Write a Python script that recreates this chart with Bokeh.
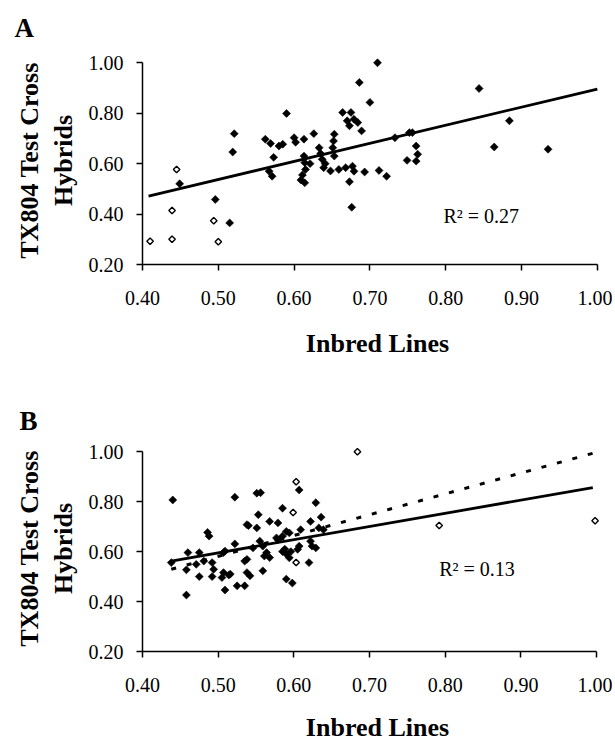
import numpy as np
from bokeh.plotting import figure
from bokeh.layouts import column
from bokeh.models import FixedTicker, Label, Range1d, Title
from bokeh.embed import file_html
from bokeh.resources import INLINE

# ---------------- data: panel A ----------------
a_fill_x = [0.449, 0.496, 0.515, 0.519, 0.521, 0.562, 0.569, 0.580, 0.585, 0.573,
            0.567, 0.571, 0.590, 0.600, 0.602, 0.613, 0.626, 0.613, 0.614, 0.611,
            0.614, 0.609, 0.633, 0.635, 0.637, 0.639, 0.653, 0.652, 0.651, 0.653,
            0.648, 0.659, 0.664, 0.670, 0.673, 0.675, 0.679, 0.684, 0.689, 0.686,
            0.700, 0.710, 0.668, 0.677, 0.679, 0.673, 0.693, 0.712, 0.722, 0.676,
            0.733, 0.752, 0.756, 0.761, 0.763, 0.761, 0.749, 0.844, 0.884, 0.864,
            0.935, 0.615, 0.621, 0.641]
a_fill_y = [0.520, 0.458, 0.365, 0.646, 0.719, 0.697, 0.680, 0.670, 0.677, 0.625,
            0.570, 0.550, 0.799, 0.703, 0.685, 0.697, 0.719, 0.630, 0.604, 0.555,
            0.524, 0.535, 0.663, 0.640, 0.617, 0.584, 0.717, 0.690, 0.663, 0.630,
            0.571, 0.577, 0.803, 0.770, 0.750, 0.803, 0.776, 0.763, 0.730, 0.922,
            0.843, 1.000, 0.584, 0.590, 0.570, 0.528, 0.567, 0.573, 0.550, 0.427,
            0.703, 0.723, 0.723, 0.670, 0.637, 0.610, 0.613, 0.898, 0.770, 0.666,
            0.657, 0.577, 0.600, 0.600]
a_open_x = [0.410, 0.439, 0.439, 0.445, 0.494, 0.500]
a_open_y = [0.292, 0.300, 0.414, 0.577, 0.374, 0.290]
a_fit = dict(slope=0.718, intercept=0.178, x0=0.408, x1=1.000)
a_r2 = "R\u00b2 = 0.27"

# ---------------- data: panel B ----------------
b_fill_x = [0.440, 0.438, 0.458, 0.460, 0.458, 0.471, 0.475, 0.475, 0.486, 0.488,
            0.481, 0.492, 0.494, 0.492, 0.505, 0.514, 0.509, 0.507, 0.522, 0.522,
            0.525, 0.535, 0.538, 0.538, 0.538, 0.542, 0.551, 0.556, 0.553, 0.551,
            0.555, 0.559, 0.564, 0.561, 0.559, 0.568, 0.579, 0.585, 0.577, 0.585,
            0.590, 0.594, 0.585, 0.590, 0.594, 0.596, 0.588, 0.590, 0.598, 0.607,
            0.605, 0.607, 0.620, 0.622, 0.624, 0.629, 0.622, 0.629, 0.636, 0.639,
            0.609, 0.540, 0.509, 0.516, 0.507, 0.535, 0.579, 0.568, 0.633, 0.546]
b_fill_y = [0.807, 0.556, 0.426, 0.596, 0.527, 0.549, 0.596, 0.500, 0.677, 0.662,
            0.562, 0.556, 0.529, 0.500, 0.496, 0.506, 0.446, 0.596, 0.818, 0.631,
            0.463, 0.463, 0.708, 0.569, 0.516, 0.503, 0.834, 0.836, 0.748, 0.695,
            0.642, 0.622, 0.596, 0.582, 0.523, 0.721, 0.715, 0.774, 0.655, 0.662,
            0.681, 0.675, 0.600, 0.590, 0.575, 0.600, 0.610, 0.490, 0.474, 0.847,
            0.609, 0.622, 0.556, 0.642, 0.622, 0.615, 0.721, 0.796, 0.738, 0.688,
            0.688, 0.704, 0.602, 0.510, 0.516, 0.562, 0.648, 0.576, 0.695, 0.615]
b_open_x = [0.603, 0.599, 0.603, 0.684, 0.792, 0.998]
b_open_y = [0.880, 0.757, 0.556, 1.000, 0.705, 0.724]
b_fit_solid = dict(slope=0.528, intercept=0.331, x0=0.438, x1=0.995)
b_fit_dash = dict(slope=0.834, intercept=0.164, x0=0.438, x1=0.997)
b_r2 = "R\u00b2 = 0.13"

# ---------------- axes ----------------
x_ticks = [0.4, 0.5, 0.6, 0.7, 0.8, 0.9, 1.0]
x_tick_labels = ["0.40", "0.50", "0.60", "0.70", "0.80", "0.90", "1.00"]
y_ticks = [0.2, 0.4, 0.6, 0.8, 1.0]
y_tick_labels = ["0.20", "0.40", "0.60", "0.80", "1.00"]
x_title = "Inbred Lines"
y_title = "TX804 Test Cross\nHybrids"

SERIF = "Liberation Serif"


def panel(letter, fx, fy, ox, oy, fits, r2, r2_pos, height, border_left,
          border_top, border_bottom, x_end, title_standoff, letter_offset,
          letter_standoff, letter_valign):
    title = Title(text=letter, align="left", offset=letter_offset,
                  standoff=letter_standoff, vertical_align=letter_valign,
                  text_font=SERIF, text_font_size="27px",
                  text_font_style="bold", text_color="black")
    p = figure(width=612, height=height, output_backend="svg",
               toolbar_location=None, x_range=Range1d(0.4, x_end),
               y_range=Range1d(0.2, 1.025), min_border_left=border_left,
               min_border_right=0, min_border_top=border_top,
               min_border_bottom=border_bottom, title=title)
    p.outline_line_color = None
    p.xgrid.visible = False
    p.ygrid.visible = False
    p.background_fill_color = "white"
    p.border_fill_color = "white"

    for ax, ticks, labels in ((p.xaxis, x_ticks, x_tick_labels),
                              (p.yaxis, y_ticks, y_tick_labels)):
        ax.ticker = FixedTicker(ticks=ticks)
        ax.major_label_overrides = {t: l for t, l in zip(ticks, labels)}
        ax.minor_tick_line_color = None
        ax.major_tick_in = 0
        ax.major_tick_out = 6
        ax.axis_line_width = 1.5
        ax.major_tick_line_width = 1.5
        ax.axis_line_color = "black"
        ax.major_tick_line_color = "black"
        ax.major_label_text_font = SERIF
        ax.major_label_text_font_size = "20px"
        ax.major_label_text_color = "black"
        ax.axis_label_text_font = SERIF
        ax.axis_label_text_font_size = "26px"
        ax.axis_label_text_font_style = "bold"
        ax.axis_label_text_color = "black"
    p.xaxis.bounds = (0.4, 1.0)
    p.yaxis.bounds = (0.2, 1.0)
    p.xaxis.axis_label = x_title
    p.yaxis.axis_label = y_title
    p.yaxis.axis_label_text_line_height = 1.15
    p.xaxis.major_label_standoff = 20
    p.yaxis.major_label_standoff = 13
    p.xaxis.axis_label_standoff = title_standoff
    p.yaxis.axis_label_standoff = 8

    for f in fits:
        xs = np.array([f["x0"], f["x1"]])
        ys = f["slope"] * xs + f["intercept"]
        if f.get("dash"):
            p.line(xs, ys, line_color="black", line_width=3, line_dash="5 11")
        else:
            p.line(xs, ys, line_color="black", line_width=2.8)

    p.scatter(fx, fy, marker="square", angle=np.pi / 4, size=5.6,
              fill_color="black", line_color="black", line_width=0.6)
    p.scatter(ox, oy, marker="square", angle=np.pi / 4, size=4.6,
              fill_color="white", line_color="black", line_width=1.4)

    p.add_layout(Label(x=r2_pos[0], y=r2_pos[1], text=r2, text_font=SERIF,
                       text_font_size="20px", text_color="black",
                       text_baseline="alphabetic"))
    return p


pA = panel("A", a_fill_x, a_fill_y, a_open_x, a_open_y, [a_fit], a_r2,
           (0.797, 0.394), 370, 142, 56, 106, 1.020, 21, -128, 24, "top")
b_dash = dict(b_fit_dash, dash=True)
pB = panel("B", b_fill_x, b_fill_y, b_open_x, b_open_y, [b_fit_solid, b_dash],
           b_r2, (0.792, 0.529), 374, 134, 75, 91, 1.021, 18, -123, 20,
           "bottom")

layout = column(pA, pB, spacing=0)
open("out.html", "w").write(file_html(layout, INLINE))
